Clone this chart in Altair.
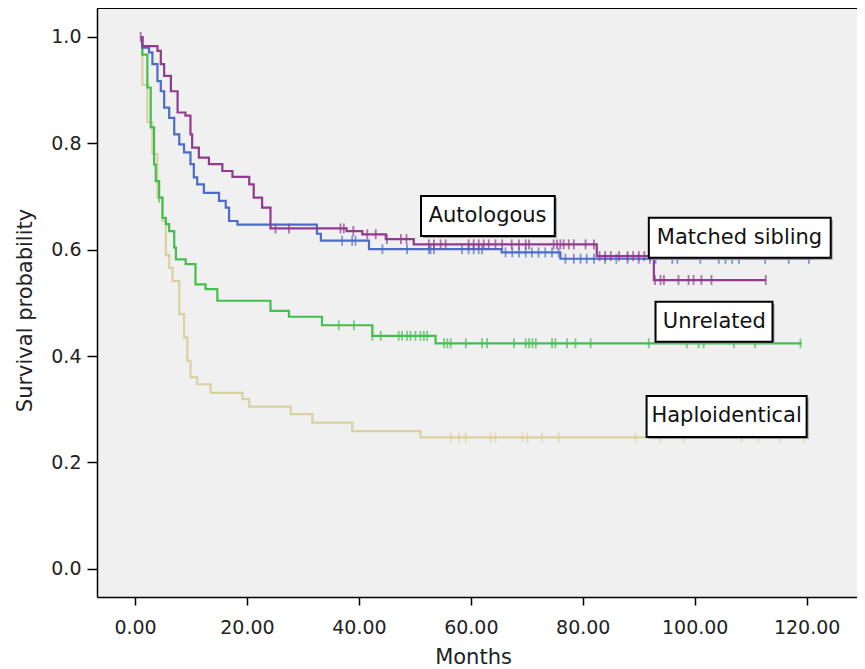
import bisect
import altair as alt
import pandas as pd

# Kaplan-Meier steps: event times (months) and survival after them
groups = ["Haploidentical", "Unrelated", "Matched sibling", "Autologous"]
colors = ["#d8d1a0", "#43bf50", "#4b6cc8", "#903b8e"]

auto_t = [1.0, 1.3, 4.0, 4.6, 5.2, 6.4, 7.6, 9.0, 9.9, 10.2, 11.4, 13.2, 15.6, 17.4,
          20.4, 21.2, 22.7, 24.2, 37.8, 40.6, 44.8, 49.8, 82.5, 92.7, 112.7]
auto_s = [1.0, 0.983, 0.974, 0.949, 0.927, 0.898, 0.858, 0.852, 0.817, 0.792, 0.773,
          0.761, 0.748, 0.737, 0.723, 0.698, 0.679, 0.640, 0.635, 0.629, 0.620, 0.610,
          0.588, 0.543, 0.543]
auto_c = [1.0, 25.1, 27.5, 36.7, 37.3, 39.0, 41.5, 43.0, 45.0, 47.5, 48.5, 52.5, 53.4,
          54.6, 55.5, 59.6, 60.5, 61.4, 62.3, 63.2, 64.4, 65.6, 67.3, 68.6, 69.8, 70.4,
          74.8, 75.4, 76.0, 76.6, 77.5, 78.4, 80.5, 82.0, 83.0, 84.0, 85.0, 86.5, 88.0,
          89.0, 90.0, 91.0, 92.0, 92.9, 93.9, 94.5, 97.1, 98.9, 99.8, 101.2, 103.0, 112.7]

sib_t = [1.0, 1.3, 2.5, 3.1, 4.0, 4.6, 5.2, 6.1, 7.0, 7.9, 8.75, 9.9, 10.5, 11.1, 12.3,
         15.0, 16.2, 16.8, 18.3, 32.5, 33.2, 41.8, 65.5, 76.0, 121.0]
sib_s = [1.0, 0.980, 0.971, 0.949, 0.917, 0.898, 0.867, 0.848, 0.817, 0.798, 0.783,
         0.761, 0.736, 0.723, 0.707, 0.692, 0.679, 0.654, 0.647, 0.630, 0.617, 0.601,
         0.595, 0.583, 0.583]
sib_c = [37.0, 38.8, 39.4, 44.2, 48.6, 52.5, 52.8, 53.4, 58.4, 59.6, 60.5, 61.4, 62.0,
         66.2, 67.4, 68.6, 69.8, 70.9, 72.1, 73.3, 74.5, 75.7, 76.9, 78.4, 79.6, 80.7,
         82.0, 84.0, 86.0, 88.0, 90.0, 92.0, 93.0, 96.0, 96.9, 101.0, 104.3, 105.5,
         106.7, 107.9, 112.6, 116.8, 120.4]

unrel_t = [1.0, 1.3, 2.2, 2.8, 3.4, 3.7, 4.3, 4.9, 5.5, 6.1, 7.0, 7.3, 9.05, 10.8, 12.6,
           14.7, 24.2, 27.5, 33.4, 42.4, 53.7, 119.1]
unrel_s = [1.0, 0.967, 0.905, 0.830, 0.760, 0.729, 0.698, 0.660, 0.648, 0.635, 0.604,
           0.582, 0.573, 0.535, 0.526, 0.504, 0.485, 0.474, 0.458, 0.438, 0.424, 0.424]
unrel_c = [4.3, 36.4, 39.1, 42.4, 43.9, 47.1, 47.7, 48.6, 49.2, 50.1, 51.0, 51.6, 52.2,
           55.2, 55.8, 56.4, 59.1, 62.0, 62.9, 67.7, 69.8, 70.4, 71.0, 71.6, 74.5, 75.1,
           77.2, 78.7, 81.4, 91.8, 98.6, 100.7, 101.6, 107.0, 110.8, 118.9]

haplo_t = [1.0, 1.3, 2.2, 3.1, 4.0, 4.9, 5.5, 6.1, 6.7, 7.9, 8.75, 9.35, 9.9, 11.1, 13.5,
           19.2, 20.4, 27.8, 31.7, 38.8, 51.0, 119.8]
haplo_s = [1.0, 0.910, 0.840, 0.780, 0.698, 0.654, 0.590, 0.566, 0.541, 0.479, 0.435,
           0.391, 0.360, 0.347, 0.331, 0.319, 0.305, 0.291, 0.275, 0.259, 0.247, 0.247]
haplo_c = [56.4, 57.9, 59.1, 63.5, 64.4, 69.2, 70.1, 72.7, 75.7, 89.4, 93.9, 98.0,
           108.4, 111.4, 115.3, 119.5]

curves = {
    "Autologous": (auto_t, auto_s, auto_c),
    "Matched sibling": (sib_t, sib_s, sib_c),
    "Unrelated": (unrel_t, unrel_s, unrel_c),
    "Haploidentical": (haplo_t, haplo_s, haplo_c),
}

# label boxes (months / survival) and the text in them
box_text = ["Autologous", "Matched sibling", "Unrelated", "Haploidentical"]
box_x1 = [51.1, 91.8, 93.0, 91.4]
box_x2 = [75.0, 124.3, 113.9, 120.0]
box_y1 = [0.701, 0.660, 0.502, 0.325]
box_y2 = [0.626, 0.585, 0.427, 0.248]
box_tx = [63.0, 108.0, 103.5, 105.7]
box_ty = [0.664, 0.622, 0.464, 0.287]

x_ticks = [0, 20, 40, 60, 80, 100, 120]
y_ticks = [0.0, 0.2, 0.4, 0.6, 0.8, 1.0]

FONT = "DejaVu Sans"
W, H = 760, 589

line_rows, cens_rows = [], []
for g, (t, s, c) in curves.items():
    for ti, si in zip(t, s):
        line_rows.append({"group": g, "month": ti, "surv": si})
    for ci in c:
        i = max(bisect.bisect_right(t, ci) - 1, 0)
        cens_rows.append({"group": g, "month": ci, "surv": s[i]})
lines_df = pd.DataFrame(line_rows)
cens_df = pd.DataFrame(cens_rows)
boxes_df = pd.DataFrame({"text": box_text, "x1": box_x1, "x2": box_x2,
                         "y1": box_y1, "y2": box_y2, "tx": box_tx, "ty": box_ty})

xs = alt.Scale(domain=[-6.8, 129.0], nice=False, zero=False)
ys = alt.Scale(domain=[-0.053, 1.0545], nice=False, zero=False)
cs = alt.Scale(domain=groups, range=colors)

x_axis = alt.Axis(values=x_ticks, format=".2f", title="Months", tickSize=8,
                  labelPadding=28, labelBaseline="alphabetic", titleBaseline="alphabetic",
                  titleX=376, titleY=66)
y_axis = alt.Axis(values=y_ticks, format=".1f", title="Survival probability", tickSize=10,
                  labelPadding=6, titleBaseline="alphabetic", titleX=-66, titleY=302)

layers = []
for g in groups:
    sub = lines_df[lines_df.group == g]
    layers.append(
        alt.Chart(sub).mark_line(interpolate="step-after", strokeWidth=2.2).encode(
            x=alt.X("month:Q", scale=xs, axis=x_axis),
            y=alt.Y("surv:Q", scale=ys, axis=y_axis),
            color=alt.Color("group:N", scale=cs, legend=None),
        )
    )
    csub = cens_df[cens_df.group == g]
    layers.append(
        alt.Chart(csub).mark_tick(orient="vertical", size=10, thickness=1.8).encode(
            x=alt.X("month:Q", scale=xs),
            y=alt.Y("surv:Q", scale=ys),
            color=alt.Color("group:N", scale=cs, legend=None),
        )
    )

top_rule = alt.Chart(boxes_df).mark_rule(color="black", strokeWidth=2).encode(
    x=alt.value(0), x2=alt.value(W), y=alt.value(0)
)

shadows = alt.Chart(boxes_df).mark_rect(fill="#9a9a9a", xOffset=2, yOffset=2,
                                        x2Offset=2, y2Offset=2).encode(
    x=alt.X("x1:Q", scale=xs), x2="x2:Q",
    y=alt.Y("y1:Q", scale=ys), y2="y2:Q",
)
boxes = alt.Chart(boxes_df).mark_rect(fill="white", stroke="black", strokeWidth=2).encode(
    x=alt.X("x1:Q", scale=xs), x2="x2:Q",
    y=alt.Y("y1:Q", scale=ys), y2="y2:Q",
)
texts = alt.Chart(boxes_df).mark_text(font=FONT, fontSize=21, color="#111",
                                      baseline="middle", align="center").encode(
    x=alt.X("tx:Q", scale=xs), y=alt.Y("ty:Q", scale=ys), text="text:N"
)

chart = alt.layer(*layers, top_rule, shadows, boxes, texts).properties(
    width=W, height=H,
    autosize=alt.AutoSizeParams(type="none"),
    padding={"left": 89, "top": 0, "right": 0, "bottom": 70},
    background="white",
).configure_view(
    stroke=None, fill="#f0f0f0"
).configure_axis(
    grid=False, domainColor="black", domainWidth=1.5, tickColor="black", tickWidth=1.5,
    labelFont=FONT, labelFontSize=19, labelColor="#222",
    titleFont=FONT, titleFontSize=21, titleFontWeight="normal", titleColor="#222",
)

chart.save("out.html", embed_options={"renderer": "svg", "actions": False})
